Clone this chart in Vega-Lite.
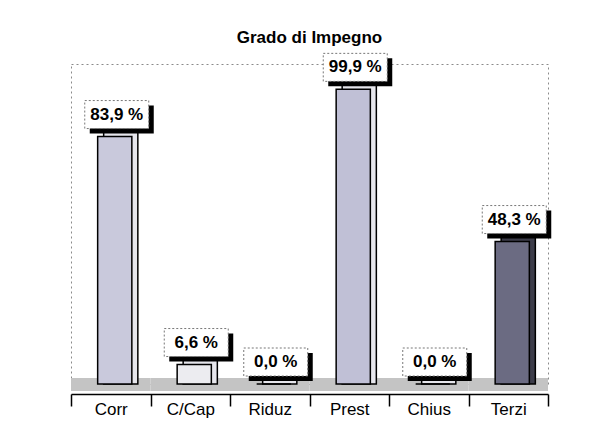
{
  "$schema": "https://vega.github.io/schema/vega-lite/v6.json",
  "width": 477,
  "height": 320,
  "autosize": "none",
  "padding": {"left": 71, "top": 64, "right": 66, "bottom": 39},
  "background": "white",
  "title": {"text": "Grado di Impegno", "fontSize": 17, "font": "Liberation Sans", "fontWeight": "bold", "anchor": "middle", "offset": 6, "color": "black"},
  "config": {"view": {"stroke": "#8a8a8a", "strokeDash": [2, 3], "strokeWidth": 1}, "font": "Liberation Sans"},
  "data": {"values": [
    {"cat": "Corr", "v": 83.9, "label": "83,9 %"},
    {"cat": "C/Cap", "v": 6.6, "label": "6,6 %"},
    {"cat": "Riduz", "v": 0.0, "label": "0,0 %"},
    {"cat": "Prest", "v": 99.9, "label": "99,9 %"},
    {"cat": "Chius", "v": 0.0, "label": "0,0 %"},
    {"cat": "Terzi", "v": 48.3, "label": "48,3 %"}
  ]},
  "encoding": {
    "x": {"field": "cat", "type": "nominal", "sort": null,
      "scale": {"paddingInner": 0, "paddingOuter": 0},
      "axis": {"title": null, "labelAngle": 0, "labelFontSize": 17, "labelColor": "black", "labelFont": "Liberation Sans",
        "domainColor": "black", "domainWidth": 1.5, "tickColor": "black", "tickWidth": 1.5, "tickSize": 12,
        "tickBand": "extent", "offset": 10, "labelPadding": -5, "grid": false}}
  },
  "layer": [
    {"mark": {"type": "rect", "fill": "#c4c4c4", "yOffset": -6, "y2Offset": 7},
     "encoding": {"y": {"datum": 0, "type": "quantitative", "scale": {"domain": [0, 108.5], "nice": false}, "axis": null}, "y2": {"datum": 0}}},
    {"mark": {"type": "bar", "width": {"band": 0.43}, "xOffset": 10, "yOffset": -6, "y2Offset": 0, "stroke": "black", "strokeWidth": 1.5},
     "encoding": {"y": {"field": "v", "type": "quantitative", "scale": {"domain": [0, 108.5], "nice": false}, "axis": null}, "y2": {"datum": 0},
       "fill": {"condition": {"test": "datum.cat === 'Terzi'", "value": "#3d3d4a"}, "value": "#e6e6ec"}}},
    {"mark": {"type": "bar", "width": {"band": 0.43}, "xOffset": 4, "stroke": "black", "strokeWidth": 1.5},
     "encoding": {"y": {"field": "v", "type": "quantitative", "scale": {"domain": [0, 108.5], "nice": false}, "axis": null}, "y2": {"datum": 0},
       "fill": {"field": "cat", "type": "nominal", "legend": null,
         "scale": {"domain": ["Corr", "C/Cap", "Riduz", "Prest", "Chius", "Terzi"], "range": ["#c9c9dc", "#ececf0", "#f2f2f2", "#c0c0d6", "#f2f2f2", "#6b6b82"]}}}},
    {"mark": {"type": "bar", "width": 64, "xOffset": 11, "yOffset": -31, "y2Offset": -3, "fill": "black"},
     "encoding": {"y": {"field": "v", "type": "quantitative", "scale": {"domain": [0, 108.5], "nice": false}, "axis": null}, "y2": {"field": "v"}}},
    {"mark": {"type": "bar", "width": 64, "xOffset": 6, "yOffset": -36, "y2Offset": -8, "fill": "white", "stroke": "#777", "strokeDash": [2, 2], "strokeWidth": 1},
     "encoding": {"y": {"field": "v", "type": "quantitative", "scale": {"domain": [0, 108.5], "nice": false}, "axis": null}, "y2": {"field": "v"}}},
    {"mark": {"type": "text", "xOffset": 6, "yOffset": -22, "fontSize": 17, "fontWeight": "bold", "align": "center", "baseline": "middle", "color": "black", "font": "Liberation Sans"},
     "encoding": {"y": {"field": "v", "type": "quantitative", "scale": {"domain": [0, 108.5], "nice": false}, "axis": null}, "text": {"field": "label"}}}
  ]
}
